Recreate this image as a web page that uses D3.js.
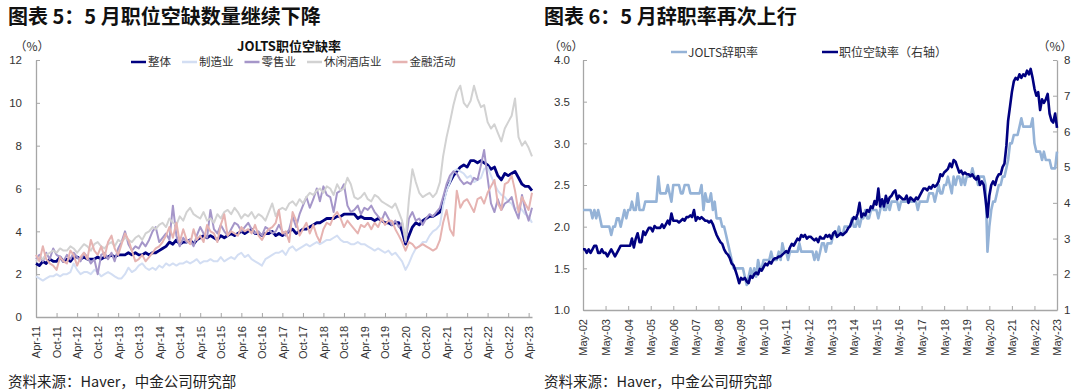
<!DOCTYPE html>
<html>
<head>
<meta charset="utf-8">
<script src="https://cdn.jsdelivr.net/npm/d3@7"></script>
<style>
    body { margin: 0; background: #fff; }
    svg { display: block; font-family: "Liberation Sans", Arial, "Noto Sans CJK SC", sans-serif; }
    .cjk { font-family: "Noto Sans CJK SC", "Liberation Sans", sans-serif; }
</style>
</head>
<body>
<svg id="chart" width="1080" height="392"></svg>
<script>
// ---- left chart: JOLTS job openings rate by industry, monthly from Apr-11
const leftStart = "Apr-11";
const leftEnd = "May-23";
const leftTickLabels = ["Apr-11", "Oct-11", "Apr-12", "Oct-12", "Apr-13", "Oct-13", "Apr-14", "Oct-14",
    "Apr-15", "Oct-15", "Apr-16", "Oct-16", "Apr-17", "Oct-17", "Apr-18", "Oct-18", "Apr-19", "Oct-19",
    "Apr-20", "Oct-20", "Apr-21", "Oct-21", "Apr-22", "Oct-22", "Apr-23"];
const leftYTicks = [0, 2, 4, 6, 8, 10, 12];
const leftNames = ["整体", "制造业", "零售业", "休闲酒店业", "金融活动"];

const totalRate = [
    2.5, 2.4, 2.6, 2.5, 2.7, 2.6, 2.6, 2.8, 2.6,
    2.7, 2.6, 2.8, 2.8, 2.7, 2.8, 2.7, 2.7, 2.7, 2.8, 2.7, 2.8,
    2.8, 2.9, 2.8, 2.9, 2.9, 2.9, 3.0, 2.9, 3.0, 2.9, 2.9, 3.0,
    2.9, 3.0, 3.0, 3.1, 3.2, 3.3, 3.5, 3.4, 3.6, 3.4, 3.5, 3.5,
    3.6, 3.4, 3.6, 3.7, 3.8, 3.7, 3.8, 3.7, 3.6, 3.8, 3.7, 3.8,
    3.9, 3.8, 3.9, 4.0, 3.9, 4.0, 4.1, 3.9, 3.9, 3.8, 3.9, 3.9,
    4.0, 3.8, 3.9, 3.8, 3.9, 4.0, 4.1, 3.9, 4.0, 4.1, 4.1, 4.2,
    4.3, 4.4, 4.4, 4.5, 4.6, 4.6, 4.6, 4.7, 4.7, 4.8, 4.8, 4.8,
    4.8, 4.6, 4.7, 4.6, 4.6, 4.6, 4.5, 4.6, 4.5, 4.4, 4.4, 4.3,
    4.4, 4.4, 4.0, 3.4, 3.8, 4.2, 4.4, 4.3, 4.5, 4.6, 4.7, 4.7,
    4.8, 4.9, 5.4, 6.0, 6.3, 6.6, 6.8, 7.0, 7.1, 7.0, 7.3, 7.3,
    7.2, 7.3, 7.2, 7.1, 6.9, 7.0, 6.6, 6.4, 6.7, 6.6, 6.7, 6.8,
    6.5, 6.2, 6.1, 6.1, 5.9];
const mfgRate = [
    1.9, 1.8, 1.7, 1.8, 1.9, 1.9, 2.0, 1.9, 2.0,
    2.0, 2.1, 2.5, 2.2, 2.0, 2.1, 2.1, 2.0, 2.2, 2.1, 1.9, 2.0,
    2.1, 2.0, 1.9, 1.8, 1.8, 2.0, 2.3, 2.1, 2.2, 2.4, 2.5, 2.3,
    2.2, 2.3, 2.2, 2.4, 2.3, 2.5, 2.4, 2.5, 2.4, 2.5, 2.5, 2.6,
    2.5, 2.6, 2.7, 2.5, 2.6, 2.6, 2.7, 2.6, 2.6, 2.8, 2.6, 2.7,
    2.8, 2.7, 2.9, 3.0, 2.8, 2.9, 2.7, 2.6, 2.5, 2.4, 2.7, 2.8,
    2.9, 3.0, 3.0, 3.1, 2.9, 3.2, 3.3, 3.1, 3.2, 3.3, 3.4, 3.3,
    3.4, 3.5, 3.4, 3.5, 3.6, 3.6, 3.7, 3.8, 3.6, 3.5, 3.5, 3.4,
    3.4, 3.5, 3.4, 3.4, 3.3, 3.2, 3.1, 3.2, 3.1, 3.0, 3.1, 2.9,
    3.0, 2.8, 2.6, 2.2, 2.5, 2.9, 3.2, 3.3, 3.5, 3.5, 3.8, 4.0,
    4.1, 4.3, 5.2, 5.9, 6.3, 6.8, 6.9, 6.8, 6.7, 6.5, 6.6, 6.3,
    6.4, 6.5, 6.9, 7.0, 6.6, 6.2, 5.9, 5.7, 5.6, 5.4, 5.3, 5.0,
    5.2, 5.0, 4.8, 4.7, 4.4];
const retailRate = [
    2.7, 2.9, 2.6, 3.0, 2.7, 3.2, 2.9, 2.8, 2.6,
    2.9, 2.7, 3.0, 2.8, 2.6, 3.0, 2.8, 2.5, 2.7, 2.0, 2.9, 3.0,
    2.7, 3.0, 2.6, 3.2, 3.5, 4.0, 3.4, 3.1, 3.3, 3.2, 3.5, 3.3,
    3.6, 4.0, 4.2, 3.5, 3.7, 3.9, 3.6, 5.2, 3.8, 3.3, 3.7, 3.5,
    3.6, 3.3, 3.8, 4.2, 3.9, 3.7, 5.0, 4.1, 3.9, 4.3, 4.0, 3.8,
    4.1, 4.4, 4.3, 4.0, 4.2, 4.4, 4.1, 3.9, 4.0, 3.8, 4.2, 4.1,
    3.9, 4.0, 4.3, 4.0, 3.8, 4.1, 4.7, 4.2, 4.8, 5.2, 5.6, 5.1,
    5.5, 6.0, 5.4, 6.1, 5.7, 5.6, 4.9, 5.8, 5.9, 6.2, 5.2, 4.9,
    5.0, 5.2, 4.8, 5.1, 5.0, 5.2, 4.9, 4.7, 4.5, 4.9, 4.6, 4.3,
    4.5, 4.2, 4.4, 3.5, 4.6, 4.9, 4.5, 4.6, 4.3, 4.6, 4.8, 4.7,
    4.9, 5.1, 5.6, 6.2, 6.6, 6.8, 6.7, 6.4, 6.2, 6.3, 6.2, 6.5,
    6.4, 7.1, 7.8, 6.5, 5.3, 4.9, 5.5, 5.0, 5.3, 5.4, 5.6, 5.0,
    4.6, 5.7, 5.0, 4.5, 5.1];
const leisureRate = [
    2.6, 2.8, 2.7, 2.9, 3.0, 3.1, 3.0, 3.2, 3.1,
    3.1, 3.3, 3.2, 3.0, 3.2, 3.4, 3.3, 3.1, 3.4, 3.5, 3.3, 3.2,
    3.4, 3.5, 3.3, 3.6, 3.5, 3.7, 3.6, 3.5, 3.7, 3.8, 3.6, 3.9,
    4.0, 4.2, 4.1, 4.3, 4.4, 4.2, 4.6, 4.4, 4.3, 4.7, 4.5, 4.9,
    5.1, 4.8, 4.7, 4.6, 4.9, 4.5, 4.6, 4.4, 4.8, 4.6, 4.9, 5.0,
    4.8, 5.1, 4.9, 4.6, 4.8, 4.7, 4.9, 4.6, 4.8, 4.7, 4.5, 4.9,
    5.3, 4.7, 5.0, 5.1, 5.0, 5.3, 5.4, 5.2, 5.5, 5.3, 5.6, 5.8,
    5.7, 5.9, 6.0, 5.8, 6.1, 6.0, 5.7, 6.2, 5.9, 6.0, 6.5, 6.2,
    5.6, 5.5, 5.6, 5.8, 5.5, 5.4, 5.7, 5.6, 5.4, 5.3, 5.2, 5.1,
    5.3, 4.9, 4.5, 3.6, 5.5, 6.9, 6.3, 5.8, 5.6, 5.7, 5.8, 5.6,
    5.8, 6.3, 7.5, 8.4, 9.1, 9.9, 10.5, 10.8, 10.0, 9.8, 10.1, 10.8,
    10.2, 9.8, 9.9, 9.1, 8.8, 9.0, 8.6, 8.2, 8.8, 9.1, 9.4, 10.2,
    8.4, 8.0, 8.2, 7.9, 7.5];
const financeRate = [
    2.9, 2.6, 3.3, 2.7, 2.5, 2.4, 2.2, 2.8, 2.6,
    2.5, 3.1, 2.9, 2.4, 2.8, 3.0, 2.7, 3.6, 3.1, 2.9, 3.3, 2.8,
    3.5, 3.8, 3.2, 2.9, 3.4, 3.9, 3.6, 3.1, 2.6, 2.7, 2.9, 2.6,
    2.8, 3.0, 3.2, 3.3, 3.5, 3.8, 4.2, 3.7, 4.4, 3.5, 4.1, 3.6,
    3.4, 4.1, 3.6, 3.8, 3.5, 4.3, 4.0, 3.9, 3.5, 4.3, 4.8, 3.8,
    4.0, 3.9, 3.8, 4.2, 4.0, 4.1, 3.9, 4.3, 3.8, 3.6, 3.9, 4.1,
    4.2, 4.4, 5.0, 3.9, 4.0, 3.5, 4.9, 4.5, 3.8, 4.1, 4.4, 3.9,
    4.3, 3.8, 3.5, 4.1, 4.4, 4.3, 4.7, 4.9, 4.6, 4.2, 4.5, 4.3,
    4.1, 3.9, 4.3, 4.2, 4.4, 4.1, 4.4, 4.2, 4.6, 4.3, 4.5, 4.5,
    4.1, 3.8, 3.5, 3.1, 3.5, 3.4, 3.2, 3.3, 3.4, 3.3, 3.2, 3.1,
    3.2, 3.6, 4.4, 5.0, 4.1, 3.8, 5.9, 5.1, 5.4, 5.5, 5.2, 4.9,
    5.5, 5.6, 5.3, 5.8, 6.1, 6.4, 5.3, 5.0, 6.2, 6.3, 6.6, 5.9,
    4.9, 5.6, 5.3, 5.0, 5.8];

// ---- right chart: quits rate (left axis) and job openings rate (right axis), monthly from May-02
const rightStart = "May-02";
const rightEnd = "May-23";
const rightTickLabels = ["May-02", "May-03", "May-04", "May-05", "May-06", "May-07", "May-08", "May-09",
    "May-10", "May-11", "May-12", "May-13", "May-14", "May-15", "May-16", "May-17", "May-18", "May-19",
    "May-20", "May-21", "May-22", "May-23"];
const rightYTicks = [1.0, 1.5, 2.0, 2.5, 3.0, 3.5, 4.0];
const rightY2Ticks = [1, 2, 3, 4, 5, 6, 7, 8];
const rightNames = ["JOLTS辞职率", "职位空缺率（右轴）"];

const quitsRate = [
    2.2, 2.2, 2.2, 2.2, 2.2, 2.1, 2.2, 2.1,
    2.2, 2.1, 2.0, 2.0, 2.0, 2.0, 2.0, 1.9, 2.0, 2.0, 2.1, 2.1,
    2.0, 2.1, 2.2, 2.1, 2.2, 2.2, 2.3, 2.2, 2.2, 2.4, 2.2, 2.2,
    2.2, 2.3, 2.3, 2.3, 2.3, 2.3, 2.3, 2.3, 2.6, 2.4, 2.4, 2.4,
    2.4, 2.5, 2.4, 2.3, 2.5, 2.5, 2.5, 2.5, 2.4, 2.4, 2.5, 2.5,
    2.5, 2.4, 2.4, 2.4, 2.4, 2.4, 2.4, 2.5, 2.2, 2.4, 2.3, 2.3,
    2.4, 2.2, 2.3, 2.1, 2.1, 2.1, 2.0, 2.0, 1.9, 1.8, 1.7, 1.6,
    1.5, 1.5, 1.5, 1.5, 1.5, 1.5, 1.4, 1.3, 1.4, 1.5, 1.4, 1.5,
    1.4, 1.6, 1.5, 1.5, 1.6, 1.6, 1.6, 1.6, 1.7, 1.6, 1.6, 1.6,
    1.7, 1.6, 1.8, 1.7, 1.7, 1.6, 1.7, 1.7, 1.7, 1.7, 1.7, 1.8,
    1.7, 1.7, 1.7, 1.7, 1.7, 1.7, 1.7, 1.6, 1.7, 1.6, 1.7, 1.8,
    1.8, 1.7, 1.8, 1.8, 1.8, 1.9, 1.9, 1.9, 2.0, 1.9, 1.9, 2.0,
    2.0, 2.0, 2.0, 2.1, 2.0, 2.0, 2.1, 2.0, 2.1, 2.1, 2.2, 2.1,
    2.1, 2.2, 2.2, 2.2, 2.2, 2.1, 2.2, 2.3, 2.2, 2.2, 2.3, 2.2,
    2.3, 2.3, 2.3, 2.3, 2.2, 2.3, 2.3, 2.3, 2.3, 2.3, 2.3, 2.3,
    2.3, 2.3, 2.2, 2.3, 2.3, 2.3, 2.3, 2.3, 2.4, 2.4, 2.4, 2.3,
    2.4, 2.5, 2.4, 2.4, 2.5, 2.5, 2.6, 2.5, 2.4, 2.6, 2.5, 2.6,
    2.6, 2.5, 2.6, 2.5, 2.6, 2.6, 2.6, 2.7, 2.6, 2.6, 2.5, 2.6,
    2.6, 2.6, 2.5, 1.7, 2.0, 2.2, 2.3, 2.3, 2.4, 2.5, 2.5, 2.6,
    2.6, 2.7, 2.8, 3.0, 3.0, 3.1, 3.1, 3.1, 3.2, 3.3, 3.2, 3.2,
    3.2, 3.2, 3.2, 3.3, 3.0, 2.9, 2.9, 2.9, 2.8, 2.9, 2.8, 2.8,
    2.8, 2.7, 2.7, 2.7, 2.9];
const openingsRate = [
    2.7, 2.7, 2.6, 2.7, 2.6, 2.7, 2.8, 2.8,
    2.6, 2.6, 2.7, 2.6, 2.6, 2.5, 2.6, 2.7, 2.6, 2.5, 2.6, 2.7,
    2.8, 2.8, 2.8, 2.8, 2.8, 2.8, 3.0, 2.75, 3.0, 3.15, 2.9, 2.9,
    3.2, 3.1, 3.2, 3.3, 3.3, 3.2, 3.35, 3.3, 3.3, 3.3, 3.4, 3.3,
    3.4, 3.5, 3.4, 3.7, 3.5, 3.5, 3.5, 3.45, 3.5, 3.55, 3.5, 3.6,
    3.6, 3.65, 3.6, 3.8, 3.5, 3.6, 3.55, 3.6, 3.55, 3.5, 3.5, 3.45,
    3.5, 3.4, 3.25, 3.1, 3.0, 2.9, 2.85, 2.7, 2.6, 2.55, 2.45, 2.3,
    2.25, 2.1, 1.95, 1.75, 1.9, 1.85, 1.9, 1.8, 1.75, 1.95, 1.9, 2.0,
    2.05, 2.0, 2.15, 2.1, 2.2, 2.3, 2.25, 2.35, 2.3, 2.4, 2.45, 2.45,
    2.5, 2.5, 2.55, 2.6, 2.65, 2.6, 2.75, 2.85, 2.8, 2.9, 3.0, 2.95,
    3.1, 3.05, 3.1, 3.0, 3.05, 3.05, 3.0, 2.95, 3.0, 2.9, 3.05, 3.0,
    3.0, 3.1, 3.05, 3.1, 3.0, 3.15, 3.2, 3.05, 3.1, 3.15, 3.1, 3.15,
    3.2, 3.3, 3.35, 3.5, 3.6, 3.55, 3.7, 4.0, 3.6, 3.7, 3.65, 3.8,
    3.75, 3.9, 3.85, 4.05, 3.95, 4.4, 3.9, 4.1, 3.9, 4.2, 4.0, 4.15,
    4.2, 4.3, 4.35, 4.1, 4.2, 4.15, 4.1, 4.1, 4.2, 4.0, 4.15, 4.1,
    4.05, 4.15, 4.1, 4.2, 4.3, 4.4, 4.4, 4.35, 4.45, 4.4, 4.5, 4.45,
    4.5, 4.6, 4.8, 4.75, 4.85, 4.9, 4.95, 5.1, 5.0, 5.2, 5.15, 5.0,
    4.85, 4.9, 4.8, 4.85, 4.8, 4.8, 4.75, 4.8, 4.7, 4.65, 4.75, 4.5,
    4.6, 4.5, 4.1, 3.6, 4.2, 4.5, 4.6, 4.5, 4.7, 4.8, 4.8, 5.0,
    5.1, 5.6, 6.3, 6.7, 7.1, 7.4, 7.5, 7.45, 7.6, 7.5, 7.6, 7.55,
    7.7, 7.6, 7.75, 7.5, 7.2, 7.0, 7.1, 6.6, 6.9, 6.8, 6.9, 7.05,
    6.5, 6.3, 6.25, 6.5, 6.1];

const parseMonth = d3.timeParse("%b-%y");
const fmtMonth = d3.timeFormat("%b-%y");
const axisColor = "#a6a6a6";
const textColor = "#333";

function monthDates(start, n) {
    const d0 = parseMonth(start);
    return d3.range(n).map(i => d3.timeMonth.offset(d0, i));
}

function styleAxis(g) {
    g.select(".domain").attr("stroke", axisColor).attr("stroke-width", 1.3);
    g.selectAll(".tick line").attr("stroke", axisColor).attr("stroke-width", 1);
    g.selectAll(".tick text").attr("fill", textColor).attr("font-size", 11.5);
}

function rotateLabels(g) {
    g.selectAll(".tick text")
        .attr("transform", "rotate(-90)")
        .attr("text-anchor", "end")
        .attr("x", -9)
        .attr("y", 0)
        .attr("dy", "0.35em")
        .attr("font-size", 11);
}

function drawSeries(g, dates, values, x, y, color, width) {
    const line = d3.line()
        .x((d, i) => x(dates[i]))
        .y(d => y(d));
    g.append("path")
        .datum(values)
        .attr("fill", "none")
        .attr("stroke", color)
        .attr("stroke-width", width)
        .attr("stroke-linejoin", "round")
        .attr("d", line);
}

const svg = d3.select("#chart");

// titles and source notes
svg.append("text").attr("class", "cjk").attr("x", 8).attr("y", 24)
    .attr("font-size", 20).attr("font-weight", "bold").attr("fill", "#111")
    .text("图表 5：5 月职位空缺数量继续下降");
svg.append("text").attr("class", "cjk").attr("x", 544).attr("y", 24)
    .attr("font-size", 20).attr("font-weight", "bold").attr("fill", "#111")
    .text("图表 6：5 月辞职率再次上行");
[8, 544].forEach(x0 => {
    svg.append("text").attr("class", "cjk").attr("x", x0).attr("y", 387)
        .attr("font-size", 14.5).attr("fill", "#222")
        .text("资料来源：Haver，中金公司研究部");
});

// ================= left chart =================
(function () {
    const n = totalRate.length;
    const dates = monthDates(leftStart, n);
    const x = d3.scaleTime().domain([parseMonth(leftStart), parseMonth(leftEnd)]).range([36, 532]);
    const y = d3.scaleLinear().domain([0, 12]).range([317, 60]);
    const g = svg.append("g");

    g.append("g")
        .attr("transform", "translate(36,0)")
        .call(d3.axisLeft(y).tickValues(leftYTicks).tickSizeInner(-4).tickSizeOuter(0).tickPadding(14).tickFormat(d3.format("d")))
        .call(styleAxis);

    g.append("g")
        .attr("transform", "translate(0,317)")
        .call(d3.axisBottom(x).tickValues(leftTickLabels.map(parseMonth)).tickSizeInner(-4).tickSizeOuter(0).tickFormat(fmtMonth))
        .call(styleAxis)
        .call(rotateLabels);

    g.append("text").attr("class", "cjk").attr("x", 32).attr("y", 51)
        .attr("text-anchor", "middle").attr("font-size", 12).attr("fill", textColor).text("（%）");
    g.append("text").attr("class", "cjk").attr("x", 289).attr("y", 51)
        .attr("text-anchor", "middle").attr("font-size", 13).attr("font-weight", "bold").attr("fill", "#111")
        .text("JOLTS职位空缺率");

    const series = [totalRate, mfgRate, retailRate, leisureRate, financeRate];
    const colors = ["#000080", "#d3def3", "#a596c9", "#d2d2d2", "#e6b3b1"];
    const widths = [2.8, 2, 2, 2, 2];
    // total drawn first, the industries go on top of it
    series.forEach((s, i) => drawSeries(g, dates, s, x, y, colors[i], widths[i]));

    // legend
    const leg = g.append("g");
    let lx = 131;
    leftNames.forEach((name, i) => {
        leg.append("line").attr("x1", lx).attr("x2", lx + 15).attr("y1", 62).attr("y2", 62)
            .attr("stroke", colors[i]).attr("stroke-width", 2.5);
        const t = leg.append("text").attr("class", "cjk").attr("x", lx + 17).attr("y", 66)
            .attr("font-size", 11.5).attr("fill", textColor).text(name);
        lx += 17 + t.node().getComputedTextLength() + 11;
    });
})();

// ================= right chart =================
(function () {
    const n = quitsRate.length;
    const dates = monthDates(rightStart, n);
    const x = d3.scaleTime().domain([parseMonth(rightStart), parseMonth(rightEnd)]).range([583, 1057]);
    const y = d3.scaleLinear().domain([1, 4]).range([310, 60]);
    const y2 = d3.scaleLinear().domain([1, 8]).range([310, 60]);
    const g = svg.append("g");

    g.append("g")
        .attr("transform", "translate(583,0)")
        .call(d3.axisLeft(y).tickValues(rightYTicks).tickSizeInner(-4).tickSizeOuter(0).tickPadding(13).tickFormat(d3.format(".1f")))
        .call(styleAxis);

    g.append("g")
        .attr("transform", "translate(1057,0)")
        .call(d3.axisRight(y2).tickValues(rightY2Ticks).tickSizeInner(-4).tickSizeOuter(0).tickPadding(7).tickFormat(d3.format("d")))
        .call(styleAxis);

    g.append("g")
        .attr("transform", "translate(0,310)")
        .call(d3.axisBottom(x).tickValues(rightTickLabels.map(parseMonth)).tickSizeInner(-4).tickSizeOuter(0).tickFormat(fmtMonth))
        .call(styleAxis)
        .call(rotateLabels);

    g.append("text").attr("class", "cjk").attr("x", 566).attr("y", 51)
        .attr("text-anchor", "middle").attr("font-size", 12).attr("fill", textColor).text("（%）");
    g.append("text").attr("class", "cjk").attr("x", 1055).attr("y", 51)
        .attr("text-anchor", "middle").attr("font-size", 12).attr("fill", textColor).text("（%）");

    drawSeries(g, dates, quitsRate, x, y, "#95b3d7", 2.6);
    drawSeries(g, dates, openingsRate, x, y2, "#000080", 2.6);

    const legColors = ["#95b3d7", "#000080"];
    const legX = [671, 822];
    rightNames.forEach((name, i) => {
        g.append("line").attr("x1", legX[i]).attr("x2", legX[i] + 16).attr("y1", 52).attr("y2", 52)
            .attr("stroke", legColors[i]).attr("stroke-width", 2.5);
        g.append("text").attr("class", "cjk").attr("x", legX[i] + 17).attr("y", 56.5)
            .attr("font-size", 12).attr("fill", textColor).text(name);
    });
})();
</script>
</body>
</html>
